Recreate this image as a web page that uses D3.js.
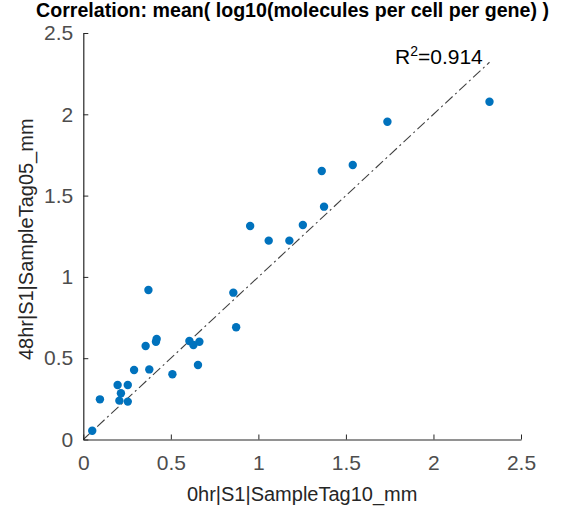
<!DOCTYPE html>
<html><head><meta charset="utf-8">
<script src="https://cdn.jsdelivr.net/npm/d3@7"></script>
<style>body{margin:0;background:#fff;} svg{display:block;font-family:"Liberation Sans",Arial,sans-serif;}</style>
</head><body>
<svg id="c" width="569" height="508"></svg>
<script>
const titleText = "Correlation: mean( log10(molecules per cell per gene) )";
const xLabel = "0hr|S1|SampleTag10_mm";
const yLabel = "48hr|S1|SampleTag05_mm";
const r2Value = "0.914";
const xTicks = [0, 0.5, 1, 1.5, 2, 2.5];
const yTicks = [0, 0.5, 1, 1.5, 2, 2.5];
const xValues = [0.051,0.095,0.196,0.254,0.215,0.206,0.254,0.290,0.377,0.372,0.356,0.415,0.419,0.509,0.606,0.629,0.663,0.655,0.857,0.873,0.953,1.059,1.177,1.254,1.375,1.362,1.539,1.737,2.320];
const yValues = [0.054,0.247,0.335,0.335,0.284,0.239,0.233,0.427,0.431,0.919,0.575,0.601,0.618,0.401,0.606,0.581,0.601,0.458,0.903,0.690,1.313,1.223,1.223,1.319,1.432,1.651,1.688,1.954,2.077];
const fitLine = [[0, 0], [2.32, 2.32]];

const svg = d3.select("#c");
const m = {l:83.3, r:48, t:33, b:68};
const W = 569, H = 508;
const x = d3.scaleLinear().domain([0,2.5]).range([m.l, W - m.r]);
const y = d3.scaleLinear().domain([0,2.5]).range([H - m.b - 0.5, m.t]);

// dash-dot line
svg.append("path")
  .attr("d", d3.line().x(d=>x(d[0])).y(d=>y(d[1]))(fitLine))
  .attr("fill","none").attr("stroke","#404040").attr("stroke-width",1.1)
  .attr("stroke-dasharray","10,3.5,2,3.5");

// points
svg.append("g").selectAll("circle").data(xValues).join("circle")
  .attr("cx",(d)=>x(d)).attr("cy",(d,i)=>y(yValues[i])).attr("r",4.2)
  .attr("fill","#0072BD");

// axes
const xAxis = d3.axisBottom(x).tickValues(xTicks).tickSizeInner(-5).tickSizeOuter(0).tickPadding(16)
  .tickFormat(d=>d3.format("")(d));
const gx = svg.append("g").attr("transform",`translate(0,${y(0)})`).call(xAxis);
const yAxis = d3.axisLeft(y).tickValues(yTicks).tickSizeInner(-5).tickSizeOuter(0).tickPadding(10)
  .tickFormat(d=>d3.format("")(d));
const gy = svg.append("g").attr("transform",`translate(${x(0)},0)`).call(yAxis);
[gx,gy].forEach(g=>{
  g.select(".domain").attr("stroke","#262626").attr("stroke-width",1.2);
  g.selectAll(".tick line").attr("stroke","#262626").attr("stroke-width",1);
  g.selectAll(".tick text").attr("fill","#4d4d4d").style("font-size","21px").style("font-family","Liberation Sans, Arial, sans-serif");
});

// labels
svg.append("text").attr("x",(x(0)+x(2.5))/2).attr("y",501).attr("text-anchor","middle")
  .attr("fill","#262626").style("font-size","20px").text(xLabel);
svg.append("text").attr("transform",`translate(33,${(y(0)+y(2.5))/2 + 3}) rotate(-90)`).attr("text-anchor","middle")
  .attr("fill","#262626").style("font-size","20px").text(yLabel);
svg.append("text").attr("x",292.5).attr("y",17).attr("text-anchor","middle")
  .attr("fill","#000").style("font-size","19.6px").style("font-weight","bold").text(titleText);

const r2 = svg.append("text").attr("x",395).attr("y",63.5).attr("fill","#000").style("font-size","21px");
r2.append("tspan").text("R");
r2.append("tspan").attr("dy",-8).style("font-size","14px").text("2");
r2.append("tspan").attr("dy",8).text("=" + r2Value);
</script>
</body></html>
